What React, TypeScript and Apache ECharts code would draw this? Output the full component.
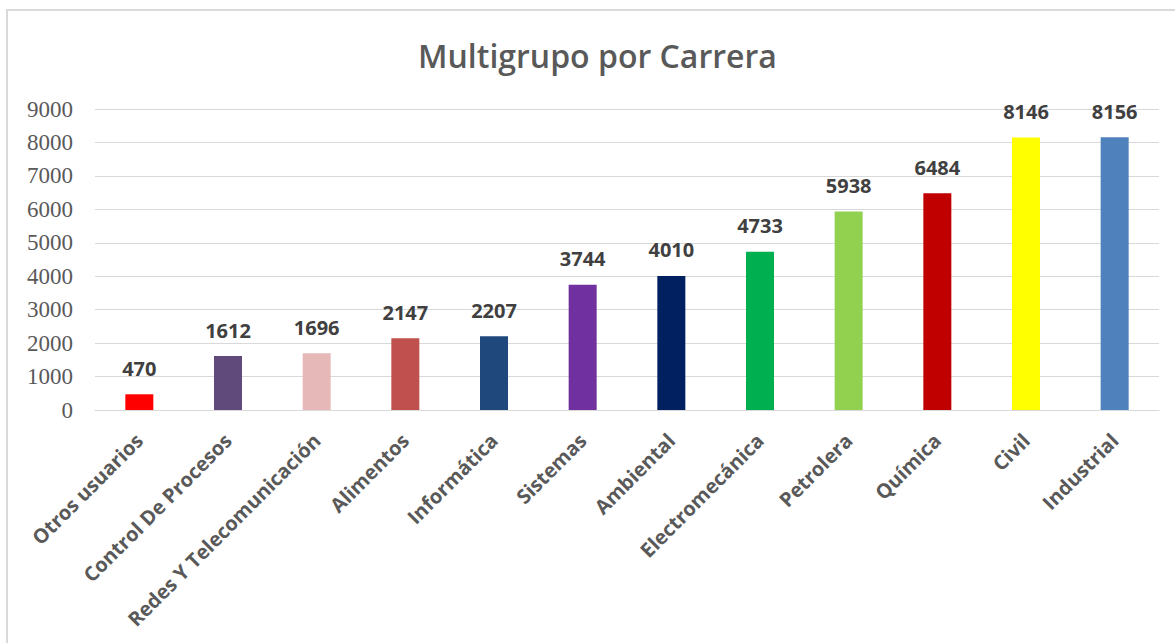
import React, { useEffect, useRef } from "react";
import * as echarts from "echarts";

const categories = [
  "Otros usuarios",
  "Control De Procesos",
  "Redes Y Telecomunicación",
  "Alimentos",
  "Informática",
  "Sistemas",
  "Ambiental",
  "Electromecánica",
  "Petrolera",
  "Química",
  "Civil",
  "Industrial",
];
const values = [470, 1612, 1696, 2147, 2207, 3744, 4010, 4733, 5938, 6484, 8146, 8156];
const barColors = [
  "#FF0000",
  "#604A7B",
  "#E6B9B8",
  "#C0504D",
  "#1F497D",
  "#7030A0",
  "#002060",
  "#00B050",
  "#92D050",
  "#C00000",
  "#FFFF00",
  "#4F81BD",
];
const titleText = "Multigrupo por Carrera";

export default function App() {
  const ref = useRef<HTMLDivElement>(null);
  useEffect(() => {
    if (!ref.current) return;
    const chart = echarts.init(ref.current, undefined, { renderer: "svg" });
    chart.setOption({
      animation: false,
      backgroundColor: "#ffffff",
      title: {
        text: titleText,
        left: 413,
        top: 34,
        textStyle: {
          fontFamily: "Open Sans",
          fontSize: 32,
          fontWeight: 600,
          color: "#595959",
        },
      },
      graphic: [
        {
          type: "rect",
          shape: { x: 7, y: 10, width: 1200, height: 700 },
          style: { fill: "none", stroke: "#d9d9d9", lineWidth: 2 },
          silent: true,
        },
      ],
      grid: { left: 95, right: 16, top: 109, bottom: 233, containLabel: false },
      xAxis: {
        type: "category",
        data: categories,
        axisLine: { show: true, lineStyle: { color: "#d9d9d9", width: 1 } },
        axisTick: { show: false },
        axisLabel: {
          rotate: 45,
          interval: 0,
          margin: 27,
          fontFamily: "Open Sans",
          fontWeight: "bold",
          fontSize: 20,
          color: "#595959",
        },
      },
      yAxis: {
        type: "value",
        min: 0,
        max: 9000,
        interval: 1000,
        axisLine: { show: false },
        axisTick: { show: false },
        splitLine: { lineStyle: { color: "#d9d9d9", width: 1 } },
        axisLabel: {
          margin: 22,
          fontFamily: "Liberation Serif",
          fontSize: 23,
          color: "#595959",
          formatter: (v: number) => String(v),
        },
      },
      series: [
        {
          type: "bar",
          barWidth: 28,
          data: values.map((v, i) => ({ value: v, itemStyle: { color: barColors[i] } })),
          label: {
            show: true,
            position: "top",
            distance: 16,
            fontFamily: "Open Sans",
            fontWeight: "bold",
            fontSize: 20,
            color: "#404040",
          },
        },
      ],
    });
    return () => chart.dispose();
  }, []);
  return (
    <div
      ref={ref}
      style={{ position: "fixed", left: 0, top: 0, width: 1175, height: 643 }}
    />
  );
}
